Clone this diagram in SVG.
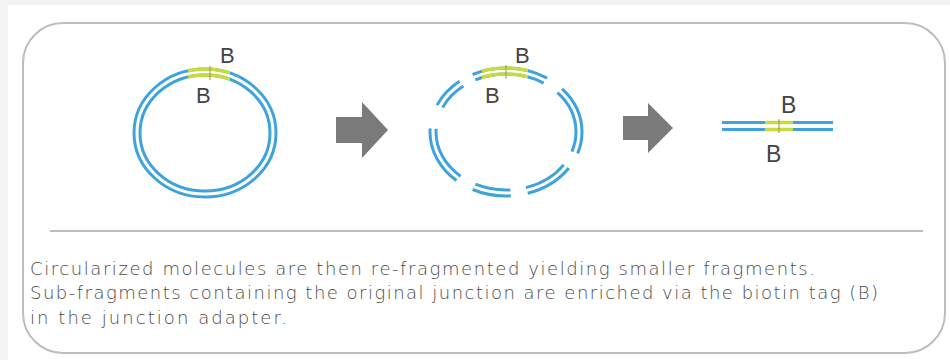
<svg xmlns="http://www.w3.org/2000/svg" width="950" height="360" viewBox="0 0 950 360">
  <style>
    .frame { fill: #ffffff; stroke: #bdbdbd; stroke-width: 2; }
    .strand { fill: none; stroke: #3ea3dc; stroke-width: 3; }
    .junction { fill: none; stroke: #c6dc3e; stroke-width: 3.5; }
    .tick { stroke: #a08c5a; stroke-width: 1; }
    .arrow { fill: #7a7a7a; }
    .tag { font-family: "Liberation Sans", Arial, sans-serif; font-size: 22px; fill: #444444; }
    .caption { font-family: "DejaVu Sans", "Liberation Sans", sans-serif; font-size: 18px; font-weight: 300; fill: #4a4a4a; }
    .broken { stroke-dasharray: 18 14 40 14 32 15 50 20 27 12 63 15 40 0; }
  </style>
  <defs>
    <clipPath id="clip-j1"><rect x="188" y="55" width="42" height="35"/></clipPath>
    <clipPath id="clip-j2"><rect x="482" y="55" width="46" height="35"/></clipPath>
  </defs>

  <!-- page -->
  <rect x="0" y="0" width="950" height="360" fill="#f3f3f3"/>
  <rect x="8" y="5" width="942" height="355" fill="#ffffff"/>

  <!-- outer panel -->
  <rect class="frame" x="23" y="23" width="922" height="330" rx="40" ry="40"/>

  <!-- circularized molecule -->
  <g id="circular">
    <ellipse class="strand" cx="205" cy="133" rx="71" ry="64"/>
    <ellipse class="strand" cx="205" cy="133" rx="65" ry="58"/>
    <g clip-path="url(#clip-j1)">
      <ellipse class="junction" cx="205" cy="133" rx="71" ry="64"/>
      <ellipse class="junction" cx="205" cy="133" rx="65" ry="58"/>
    </g>
    <line class="tick" x1="210" y1="66" x2="210" y2="80"/>
    <text class="tag" x="220" y="63">B</text>
    <text class="tag" x="196" y="103">B</text>
  </g>

  <!-- re-fragmented molecule -->
  <g id="fragmented">
    <ellipse class="strand broken" cx="506" cy="132" rx="76" ry="64" pathLength="360"/>
    <ellipse class="strand broken" cx="506" cy="132" rx="70" ry="58" pathLength="360"/>
    <g clip-path="url(#clip-j2)">
      <ellipse class="junction" cx="506" cy="132" rx="76" ry="64"/>
      <ellipse class="junction" cx="506" cy="132" rx="70" ry="58"/>
    </g>
    <line class="tick" x1="506" y1="65" x2="506" y2="79"/>
    <text class="tag" x="515" y="63">B</text>
    <text class="tag" x="485" y="103">B</text>
  </g>

  <!-- enriched sub-fragment -->
  <g id="subfragment">
    <line class="strand" x1="722" y1="122.5" x2="833" y2="122.5"/>
    <line class="strand" x1="722" y1="129.5" x2="833" y2="129.5"/>
    <line class="junction" x1="765" y1="122.5" x2="793" y2="122.5"/>
    <line class="junction" x1="765" y1="129.5" x2="793" y2="129.5"/>
    <line class="tick" x1="779" y1="119" x2="779" y2="133"/>
    <text class="tag" x="781" y="113" style="font-size:23px">B</text>
    <text class="tag" x="766" y="162" style="font-size:23px">B</text>
  </g>

  <!-- step arrows -->
  <g id="connectors">
    <polygon class="arrow" points="336,117 362,117 362,102 388,130 362,158 362,143 336,143"/>
    <polygon class="arrow" points="623,116 648,116 648,103 673,128 648,153 648,140 623,140"/>
  </g>

  <!-- divider -->
  <line x1="50" y1="231" x2="923" y2="231" stroke="#a8a8a8" stroke-width="1.5"/>

  <!-- caption -->
  <g id="caption">
    <text class="caption" x="30" y="275" textLength="785" lengthAdjust="spacing">Circularized molecules are then re-fragmented yielding smaller fragments.</text>
    <text class="caption" x="30" y="299" textLength="848" lengthAdjust="spacing">Sub-fragments containing the original junction are enriched via the biotin tag (B)</text>
    <text class="caption" x="30" y="324" textLength="257" lengthAdjust="spacing">in the junction adapter.</text>
  </g>
</svg>
